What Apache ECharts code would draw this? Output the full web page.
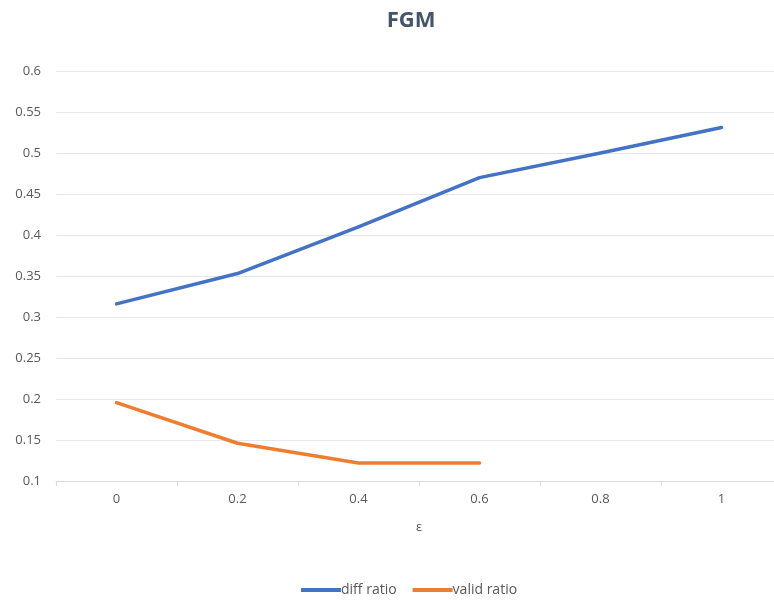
<!DOCTYPE html>
<html>
<head>
<meta charset="utf-8">
<script src="https://cdn.jsdelivr.net/npm/echarts@6/dist/echarts.min.js"></script>
<style>
  html, body { margin: 0; padding: 0; background: #fff; overflow: hidden; }
  /* The plot area runs a few pixels past the right edge of the window */
  #chart { width: 790px; height: 605px; }
</style>
</head>
<body>
<div id="chart"></div>
<script>
// Perturbation size ε on the x axis
const epsilons = ['0', '0.2', '0.4', '0.6', '0.8', '1'];
// Ratios measured for each ε
const diffRatio = [0.316, 0.353, 0.41, 0.47, 0.5, 0.531];
const validRatio = [0.1955, 0.146, 0.122, 0.122, null, null];
const yTicks = { min: 0.1, max: 0.6, step: 0.05 };

const textColor = '#595959';
const fontFamily = '"Open Sans", "Liberation Sans", sans-serif';

const chart = echarts.init(document.getElementById('chart'), null, { renderer: 'canvas' });
chart.setOption({
  animation: false,
  backgroundColor: '#ffffff',
  title: {
    text: 'FGM',
    left: 406,
    top: 5,
    textAlign: 'center',
    textStyle: { fontSize: 22, fontWeight: 'bold', color: '#44546a', fontFamily: fontFamily }
  },
  legend: {
    bottom: 3,
    left: 296,
    itemWidth: 40,
    itemHeight: 4,
    itemGap: 16,
    icon: 'rect',
    textStyle: { fontSize: 14, color: textColor, fontFamily: fontFamily, padding: [0, 0, 0, -5] },
    data: ['diff ratio', 'valid ratio']
  },
  grid: { left: 56, right: 8, top: 71, bottom: 124, containLabel: false },
  xAxis: {
    type: 'category',
    data: epsilons,
    boundaryGap: true,
    name: 'ε',
    nameLocation: 'middle',
    nameGap: 40,
    nameTextStyle: { fontSize: 13, color: textColor, fontFamily: fontFamily },
    axisLine: { lineStyle: { color: '#d9d9d9', width: 1 } },
    axisTick: { show: true, length: 5, lineStyle: { color: '#d9d9d9' } },
    axisLabel: { fontSize: 13, color: textColor, fontFamily: fontFamily, margin: 12 }
  },
  yAxis: {
    type: 'value',
    min: yTicks.min,
    max: yTicks.max,
    interval: yTicks.step,
    axisLine: { show: false },
    axisTick: { show: false },
    axisLabel: {
      fontSize: 13, color: textColor, fontFamily: fontFamily, margin: 15,
      formatter: v => String(parseFloat(v.toFixed(2)))
    },
    splitLine: { lineStyle: { color: '#e3e6ec', width: 1 } }
  },
  series: [
    {
      name: 'diff ratio',
      type: 'line',
      data: diffRatio,
      showSymbol: false,
      symbol: 'none',
      lineStyle: { color: '#4472c4', width: 3.5, cap: 'round', join: 'round' },
      itemStyle: { color: '#4472c4' }
    },
    {
      name: 'valid ratio',
      type: 'line',
      data: validRatio,
      showSymbol: false,
      symbol: 'none',
      connectNulls: false,
      lineStyle: { color: '#ed7d31', width: 3.5, cap: 'round', join: 'round' },
      itemStyle: { color: '#ed7d31' }
    }
  ]
});
</script>
</body>
</html>
